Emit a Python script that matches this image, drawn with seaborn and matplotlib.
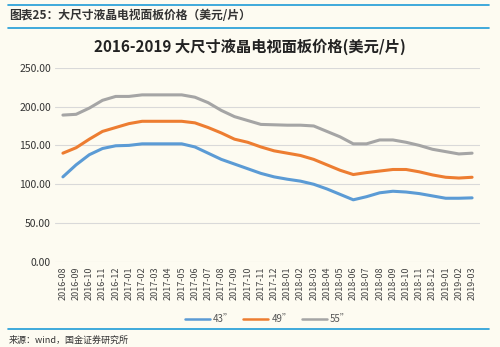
import matplotlib
matplotlib.use("Agg")
import matplotlib.pyplot as plt
import seaborn as sns
import pandas as pd

months = ["2016-08","2016-09","2016-10","2016-11","2016-12",
          "2017-01","2017-02","2017-03","2017-04","2017-05","2017-06","2017-07","2017-08","2017-09","2017-10","2017-11","2017-12",
          "2018-01","2018-02","2018-03","2018-04","2018-05","2018-06","2018-07","2018-08","2018-09","2018-10","2018-11","2018-12",
          "2019-01","2019-02","2019-03"]
s43 = [109.5,125,138,146,149.5,150,152,152,152,152,148,140,132,126,120,114,109.5,
       106.5,104,100,94,87,80,84,89,91,90,88,85,82,82,82.5]
s49 = [140,147,158,168,173,178,181,181,181,181,179,173,166,158,154,148,143,
       140,137,132,125,118,112.5,115,117,119,119,116,112,109,108,109]
s55 = [189,190,198,208,213,213,215,215,215,215,212,205,195,187,182,177,176.5,
       176,176,175,168,161,152,152,157,157,154,150,145,142,139,140]
series_names = ["43\u201d", "49\u201d", "55\u201d"]
colors = ["#5B9BD5", "#ED7D31", "#A5A5A5"]

rows = []
for name, vals in zip(series_names, [s43, s49, s55]):
    for i, (m, v) in enumerate(zip(months, vals)):
        rows.append({"idx": i, "month": m, "size": name, "price": v})
df = pd.DataFrame(rows)

sns.set_theme(style="white")
plt.rcParams['font.family'] = ['Noto Sans CJK SC', 'DejaVu Sans']
bg = "#FDFBF1"
fig = plt.figure(figsize=(5, 3.47), dpi=100, facecolor=bg)
ax = fig.add_axes([0.11, 0.245, 0.85, 0.56], facecolor=bg)

sns.lineplot(data=df, x="idx", y="price", hue="size", palette=colors,
             hue_order=series_names, linewidth=2.2, ax=ax, legend=True)

ax.set_ylim(0, 250)
ax.set_yticks([0, 50, 100, 150, 200, 250])
ax.set_yticklabels([f"{v:.2f}" for v in [0, 50, 100, 150, 200, 250]], fontsize=7.5, color="#333333")
ax.set_xlim(-0.6, len(months) - 0.4)
ax.set_xticks(range(len(months)))
ax.set_xticklabels(months, rotation=90, fontsize=6.5, color="#444444")
ax.grid(axis="y", color="#D9D9D9", linewidth=0.8)
ax.grid(axis="x", visible=False)
for sp in ax.spines.values():
    sp.set_visible(False)
ax.set_xlabel("")
ax.set_ylabel("")
ax.tick_params(axis="both", length=0, pad=3)

leg = ax.legend(loc="upper center", bbox_to_anchor=(0.5, -0.225), ncol=3, frameon=False,
                fontsize=7, handlelength=2.6, handletextpad=0.3, columnspacing=1.0)
for t in leg.get_texts():
    t.set_color("#555555")
for h in leg.get_lines():
    h.set_linewidth(1.8)

line_c = "#1E9BD7"
fig.add_artist(plt.Line2D([0.016, 0.978], [0.987, 0.987], color=line_c, linewidth=1.2, transform=fig.transFigure))
fig.add_artist(plt.Line2D([0.016, 0.978], [0.92, 0.92], color=line_c, linewidth=1.2, transform=fig.transFigure))
fig.text(0.018, 0.955, "图表25：大尺寸液晶电视面板价格（美元/片）", fontsize=8.5, style="italic",
         fontweight="bold", color="#333333", va="center")
fig.text(0.5, 0.865, "2016-2019 大尺寸液晶电视面板价格(美元/片)", fontsize=11, fontweight="bold",
         color="#222222", ha="center", va="center")
fig.add_artist(plt.Line2D([0.016, 0.978], [0.052, 0.052], color=line_c, linewidth=1.2, transform=fig.transFigure))
fig.text(0.018, 0.02, "来源：wind，国金证券研究所", fontsize=6.5, color="#333333", va="center")

fig.savefig("out.png", dpi=100, facecolor=bg)
